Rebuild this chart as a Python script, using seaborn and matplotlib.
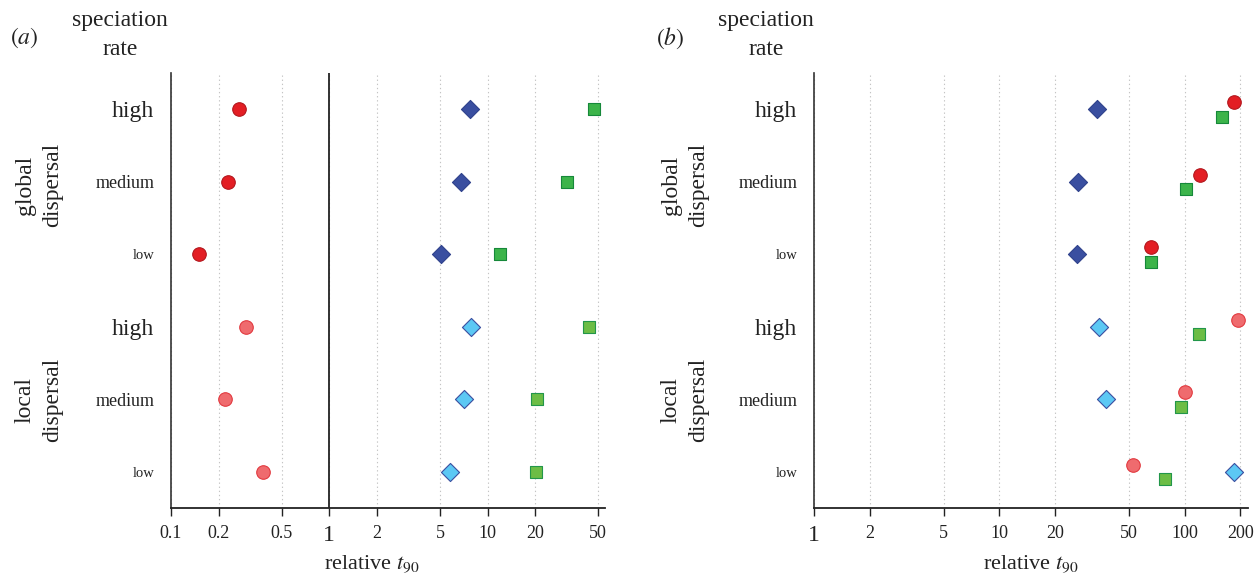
import numpy as np
import pandas as pd
import matplotlib
matplotlib.use("Agg")
import matplotlib.pyplot as plt
from matplotlib.ticker import NullLocator
import seaborn as sns

# rows, top to bottom
rate_labels = ["high", "medium", "low", "high", "medium", "low"]
dispersal = ["global"] * 3 + ["local"] * 3

# panel (a): relative t90
a_circles = [0.270, 0.229, 0.150, 0.299, 0.220, 0.381]
a_diamonds = [7.69, 6.82, 5.05, 7.83, 7.13, 5.75]
a_squares = [47.0, 31.7, 11.9, 43.5, 20.5, 20.1]

# panel (b): relative t90
b_circles = [184, 121, 65.8, 195, 101, 52.4]
b_diamonds = [33.8, 26.7, 26.2, 34.4, 37.6, 186]
b_squares = [159, 102, 65.6, 119, 95.1, 78]

a_ticks = [0.1, 0.2, 0.5, 1, 2, 5, 10, 20, 50]
a_ticklabels = ["0.1", "0.2", "0.5", "1", "2", "5", "10", "20", "50"]
b_ticks = [1, 2, 5, 10, 20, 50, 100, 200]
b_ticklabels = ["1", "2", "5", "10", "20", "50", "100", "200"]

sns.set_style("white")
plt.rcParams["font.family"] = ["Liberation Serif", "DejaVu Serif"]
plt.rcParams["mathtext.fontset"] = "stix"

W, H = 1258, 582
fig = plt.figure(figsize=(W / 100, H / 100), dpi=100)

# marker styles: (marker, size, fill global, edge global, fill local, edge local)
styles = {
    "circle": ("o", 95, "#e31e24", "#b3161c", "#ef6b6e", "#e2393f"),
    "diamond": ("D", 85, "#3a4fa0", "#2f428c", "#5cc8f4", "#3a4fa0"),
    "square": ("s", 85, "#3cb44a", "#16883a", "#6cbd45", "#22964a"),
}


def make_frame(circles, diamonds, squares):
    rows = []
    for kind, vals in [("circle", circles), ("diamond", diamonds), ("square", squares)]:
        for i, v in enumerate(vals):
            rows.append({"kind": kind, "row": i, "group": dispersal[i], "t90": v})
    return pd.DataFrame(rows)


def draw_panel(ax, df, offsets, xlim, ticks, ticklabels):
    for kind in ["circle", "diamond", "square"]:
        mk, s, fg, eg, fl, el = styles[kind]
        for grp, fc, ec in [("global", fg, eg), ("local", fl, el)]:
            sub = df[(df["kind"] == kind) & (df["group"] == grp)]
            sns.scatterplot(x=sub["t90"], y=sub["row"] + offsets[kind], ax=ax,
                            marker=mk, s=s, color=fc, edgecolor=ec,
                            linewidth=0.8, zorder=3, legend=False)
    ax.set_xscale("log")
    ax.set_xlim(*xlim)
    ax.set_ylim(5.5, -0.5)
    ax.set_xticks(ticks)
    ax.set_xticklabels(ticklabels)
    ax.xaxis.set_minor_locator(NullLocator())
    for lab in ax.get_xticklabels():
        lab.set_fontsize(17 if lab.get_text() == "1" else 13)
    ax.set_yticks(range(6))
    ax.set_yticklabels(rate_labels)
    for lab, fs in zip(ax.get_yticklabels(), [17, 13, 10.5, 17, 13, 10.5]):
        lab.set_fontsize(fs)
    ax.tick_params(axis="y", length=0, pad=12, colors="#222222")
    ax.tick_params(axis="x", length=6, width=1, direction="out", pad=6,
                   colors="#222222", bottom=True)
    ax.grid(axis="x", linestyle=(0, (1.2, 2.5)), color="#c4c4c4", linewidth=0.8)
    ax.grid(axis="y", visible=False)
    for side in ["top", "right"]:
        ax.spines[side].set_visible(False)
    ax.spines["left"].set_color("#333333")
    ax.spines["left"].set_linewidth(1.2)
    ax.spines["bottom"].set_color("#222222")
    ax.spines["bottom"].set_linewidth(1.3)
    ax.set_xlabel(r"relative $t_{90}$", fontsize=16, color="#222222")
    ax.set_ylabel("")


ax_a = fig.add_axes([171 / W, 1 - 508 / H, 434 / W, 435 / H])
ax_b = fig.add_axes([814 / W, 1 - 508 / H, 434 / W, 435 / H])

no_offset = {"circle": 0.0, "diamond": 0.0, "square": 0.0}
dodge = {"circle": -0.1, "diamond": 0.0, "square": 0.1}

draw_panel(ax_a, make_frame(a_circles, a_diamonds, a_squares), no_offset,
           (0.1, 55.2), a_ticks, a_ticklabels)
ax_a.axvline(1, color="#222222", linewidth=1.3, zorder=2)
ax_a.xaxis.set_label_coords(0.463, -0.105)

draw_panel(ax_b, make_frame(b_circles, b_diamonds, b_squares), dodge,
           (1, 220), b_ticks, b_ticklabels)
ax_b.xaxis.set_label_coords(0.5, -0.105)


def ftext(x, y, s, **kw):
    fig.text(x / W, 1 - y / H, s, ha="center", va="center", color="#222222", **kw)


for x0, letter in [(0, "a"), (646, "b")]:
    ftext(x0 + 24, 38, r"$(%s)$" % letter, fontsize=17)
    ftext(x0 + 120, 35, "speciation\nrate", fontsize=17, linespacing=1.45)
    ftext(x0 + 39, 185, "global\ndispersal", fontsize=17, rotation=90, linespacing=1.4)
    ftext(x0 + 39, 400, "local\ndispersal", fontsize=17, rotation=90, linespacing=1.4)

fig.savefig("out.png", dpi=100, facecolor="white")
